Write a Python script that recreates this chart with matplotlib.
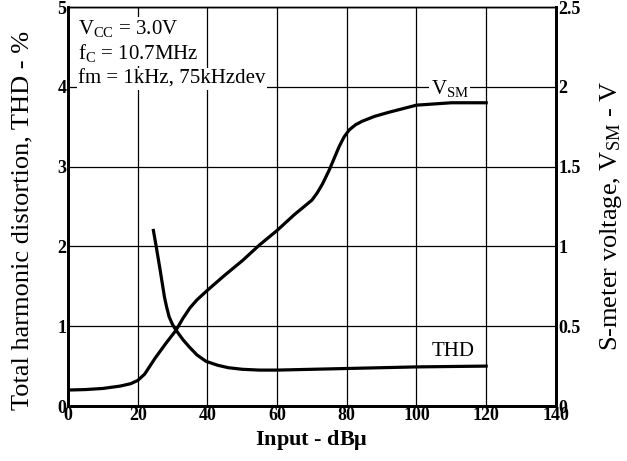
import numpy as np
import matplotlib.pyplot as plt

plt.rcParams['font.family'] = ['Liberation Serif', 'DejaVu Serif']
plt.rcParams['mathtext.fontset'] = 'custom'
plt.rcParams['mathtext.rm'] = 'Liberation Serif'
plt.rcParams['mathtext.it'] = 'Liberation Serif:italic'
plt.rcParams['mathtext.bf'] = 'Liberation Serif:bold'

# THD (left axis, %)
thd_x = [24.5, 25.3, 26.3, 27.7, 28.3, 29, 30, 31, 33, 34.8, 37, 39.6, 43, 46, 50, 55, 60, 70, 80, 90, 100, 110, 120]
thd_y = [2.2, 2.0, 1.74, 1.36, 1.24, 1.12, 1.02, 0.95, 0.83, 0.74, 0.64, 0.56, 0.51, 0.48, 0.46, 0.45, 0.45, 0.46, 0.47, 0.48, 0.49, 0.495, 0.5]

# S-meter voltage (right axis, V)
vsm_x = [0, 5, 10, 15, 18, 20, 22, 25, 28, 31, 33, 35, 37, 38.5, 40, 45, 50, 55, 60, 65, 70, 71.5, 73, 75,
         77.8, 79.2, 80.7, 82.5, 84.5, 88, 92, 100, 110, 120]
vsm_y = [0.10, 0.103, 0.11, 0.125, 0.14, 0.16, 0.2, 0.3, 0.39, 0.475, 0.55, 0.615, 0.665, 0.695, 0.725, 0.82, 0.91, 1.01, 1.1, 1.2, 1.29, 1.335, 1.39, 1.48,
         1.625, 1.685, 1.73, 1.762, 1.785, 1.815, 1.84, 1.885, 1.9, 1.9]

fig = plt.figure(figsize=(6.27, 4.61), dpi=100)
ax = fig.add_axes([0.1085, 0.1193, 0.778, 0.8655])
ax2 = ax.twinx()

ax.set_xlim(0, 140)
ax.set_ylim(0, 5)
ax2.set_ylim(0, 2.5)
ax.set_xticks(range(0, 141, 20))
ax.set_yticks(range(0, 6))
ax2.set_yticks([0, 0.5, 1, 1.5, 2, 2.5])
ax2.set_yticklabels(['0', '0.5', '1', '1.5', '2', '2.5'])

ax.grid(True, color='black', linewidth=0.9)
ax.set_axisbelow(True)

for a in (ax, ax2):
    for s in a.spines.values():
        s.set_linewidth(1.0)
    a.spines['left'].set_linewidth(2)
    a.spines['bottom'].set_linewidth(2)
    a.spines['right'].set_linewidth(2)

ax.tick_params(axis='both', length=0, labelsize=13, pad=1)
ax2.tick_params(axis='y', length=0, labelsize=13, pad=2)
for lab in ax.get_xticklabels() + ax.get_yticklabels() + ax2.get_yticklabels():
    lab.set_fontweight('bold')

ax.plot(thd_x, thd_y, color='black', linewidth=2.3, zorder=3)
ax2.plot(vsm_x, vsm_y, color='black', linewidth=2.3, zorder=3)

# axis titles placed by pixel position of the reference
fig.text(312 / 627, 1 - 440 / 461, r'Input - dB$\mathbf{\mu}$', fontsize=16, fontweight='bold',
         ha='center', va='center')
fig.text(22 / 627, 1 - 220 / 461, 'Total harmonic distortion, THD - %', fontsize=19,
         rotation=90, ha='center', va='center')
fig.text(611 / 627, 1 - 216 / 461, r'S-meter voltage, V$_{\rm SM}$ - V', fontsize=19,
         rotation=90, ha='center', va='center')

box = dict(facecolor='white', edgecolor='none', pad=1)
ax.text(3, 4.73, r'V$_{\rm CC}$ = 3.0V', fontsize=15, va='center', bbox=box, zorder=4)
ax.text(3, 4.42, r'f$_{\rm C}$ = 10.7MHz', fontsize=15, va='center', bbox=box, zorder=4)
ax.text(3, 4.1, 'fm = 1kHz, 75kHzdev', fontsize=15, va='center', bbox=box, zorder=4)
ax.text(109.5, 3.98, r'V$_{\rm SM}$', fontsize=15, ha='center', va='center', bbox=box, zorder=4)
ax.text(110.5, 0.68, 'THD', fontsize=15, ha='center', va='center', zorder=4)

fig.savefig('out.png', dpi=100)
